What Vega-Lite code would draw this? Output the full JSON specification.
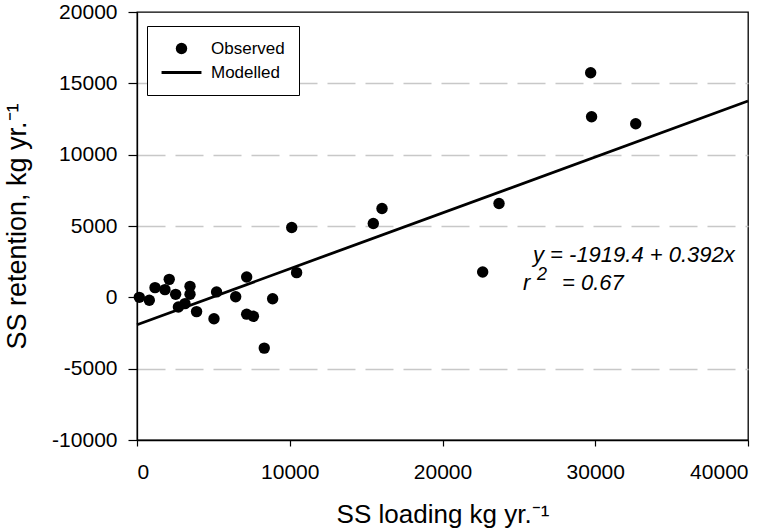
{
  "$schema": "https://vega.github.io/schema/vega-lite/v6.json",
  "width": 611,
  "height": 428,
  "autosize": "none",
  "padding": {"left": 137, "top": 12, "right": 35, "bottom": 90},
  "background": "white",
  "config": {
    "view": {"stroke": "black", "strokeWidth": 1.3},
    "axis": {
      "labelFont": "Liberation Sans",
      "titleFont": "Liberation Sans",
      "labelColor": "black",
      "titleColor": "black",
      "domainColor": "black",
      "domainWidth": 1.3,
      "tickColor": "black",
      "tickWidth": 1.2,
      "titleFontWeight": "normal"
    }
  },
  "datasets": {
    "observed": [
      {"load": 150, "ret": 0, "series": "Observed"},
      {"load": 805, "ret": -200, "series": "Observed"},
      {"load": 1180, "ret": 680, "series": "Observed"},
      {"load": 1830, "ret": 540, "series": "Observed"},
      {"load": 2110, "ret": 1260, "series": "Observed"},
      {"load": 2530, "ret": 210, "series": "Observed"},
      {"load": 2710, "ret": -680, "series": "Observed"},
      {"load": 3140, "ret": -440, "series": "Observed"},
      {"load": 3470, "ret": 770, "series": "Observed"},
      {"load": 3470, "ret": 210, "series": "Observed"},
      {"load": 3900, "ret": -1000, "series": "Observed"},
      {"load": 5040, "ret": -1500, "series": "Observed"},
      {"load": 5210, "ret": 380, "series": "Observed"},
      {"load": 6460, "ret": 40, "series": "Observed"},
      {"load": 7180, "ret": 1420, "series": "Observed"},
      {"load": 7180, "ret": -1180, "series": "Observed"},
      {"load": 7620, "ret": -1330, "series": "Observed"},
      {"load": 8330, "ret": -3560, "series": "Observed"},
      {"load": 8880, "ret": -100, "series": "Observed"},
      {"load": 10130, "ret": 4890, "series": "Observed"},
      {"load": 10450, "ret": 1730, "series": "Observed"},
      {"load": 15470, "ret": 5170, "series": "Observed"},
      {"load": 16040, "ret": 6230, "series": "Observed"},
      {"load": 22630, "ret": 1780, "series": "Observed"},
      {"load": 23700, "ret": 6580, "series": "Observed"},
      {"load": 29700, "ret": 15740, "series": "Observed"},
      {"load": 29760, "ret": 12660, "series": "Observed"},
      {"load": 32650, "ret": 12170, "series": "Observed"}
    ],
    "modelled": [
      {"load": 0, "ret": -1919.4, "series": "Modelled"},
      {"load": 40000, "ret": 13760.6, "series": "Modelled"}
    ],
    "labels": [
      {"tx": 25924, "ty": 2456, "t": "y = -1919.4 + 0.392x"},
      {"tx": 25270, "ty": 491, "t": "r"},
      {"tx": 27823, "ty": 491, "t": "= 0.67"}
    ],
    "sup": [
      {"tx": 26187, "ty": 1193, "t": "2"}
    ]
  },
  "encoding": {
    "x": {
      "field": "load",
      "type": "quantitative",
      "scale": {"domain": [0, 40000], "nice": false, "zero": false},
      "axis": {
        "title": "SS loading kg yr.⁻¹",
        "values": [0, 10000, 20000, 30000, 40000],
        "format": "d",
        "labelFontSize": 21,
        "tickSize": 6,
        "labelPadding": 15,
        "grid": false,
        "titleFontSize": 26,
        "titleY": 82,
        "titleBaseline": "alphabetic"
      }
    },
    "y": {
      "field": "ret",
      "type": "quantitative",
      "scale": {"domain": [-10000, 20000], "nice": false, "zero": false},
      "axis": {
        "title": "SS retention, kg yr.⁻¹",
        "values": [-10000, -5000, 0, 5000, 10000, 15000, 20000],
        "labelExpr": "datum.value + ''",
        "labelFontSize": 21,
        "tickSize": 9,
        "labelPadding": 11,
        "grid": true,
        "gridColor": "#c8c8c8",
        "gridWidth": 1.3,
        "gridDash": [28, 10],
        "gridOpacity": {"condition": {"test": "datum.value === 0 || datum.value === 20000 || datum.value === -10000", "value": 0}, "value": 1},
        "titleFontSize": 27,
        "titleAngle": -90,
        "titleX": -112,
        "titleY": 214,
        "titleAlign": "center",
        "titleBaseline": "alphabetic"
      }
    }
  },
  "layer": [
    {
      "mark": {"type": "rule", "color": "black", "strokeWidth": 1.3},
      "encoding": {"y": {"datum": 0}, "x": null}
    },
    {
      "data": {"name": "modelled"},
      "mark": {"type": "line", "strokeWidth": 2.8, "color": "black"},
      "encoding": {}
    },
    {
      "data": {"name": "observed"},
      "mark": {"type": "point", "filled": true, "size": 130, "opacity": 1, "color": "black"},
      "encoding": {
        "shape": {
          "field": "series",
          "type": "nominal",
          "scale": {"domain": ["Observed", "Modelled"], "range": ["circle", "M-3.5,-0.25H3.5V0.25H-3.5Z"]},
          "legend": {
            "title": null,
            "orient": "none",
            "legendX": 10,
            "legendY": 14,
            "direction": "vertical",
            "values": ["Observed", "Modelled"],
            "fillColor": "white",
            "strokeColor": "black",
            "padding": 14,
            "labelFont": "Liberation Sans",
            "labelFontSize": 17,
            "labelColor": "black",
            "symbolSize": 130,
            "symbolFillColor": "black",
            "symbolOpacity": 1,
            "symbolOffset": 12,
            "labelOffset": 21,
            "rowPadding": 5
          }
        }
      }
    },
    {
      "data": {"name": "labels"},
      "mark": {"type": "text", "font": "Liberation Sans", "fontSize": 22, "fontStyle": "italic", "align": "left", "baseline": "alphabetic", "color": "black"},
      "encoding": {
        "x": {"field": "tx", "type": "quantitative"},
        "y": {"field": "ty", "type": "quantitative"},
        "text": {"field": "t"}
      }
    },
    {
      "data": {"name": "sup"},
      "mark": {"type": "text", "font": "Liberation Sans", "fontSize": 18, "fontStyle": "italic", "align": "left", "baseline": "alphabetic", "color": "black"},
      "encoding": {
        "x": {"field": "tx", "type": "quantitative"},
        "y": {"field": "ty", "type": "quantitative"},
        "text": {"field": "t"}
      }
    }
  ]
}
